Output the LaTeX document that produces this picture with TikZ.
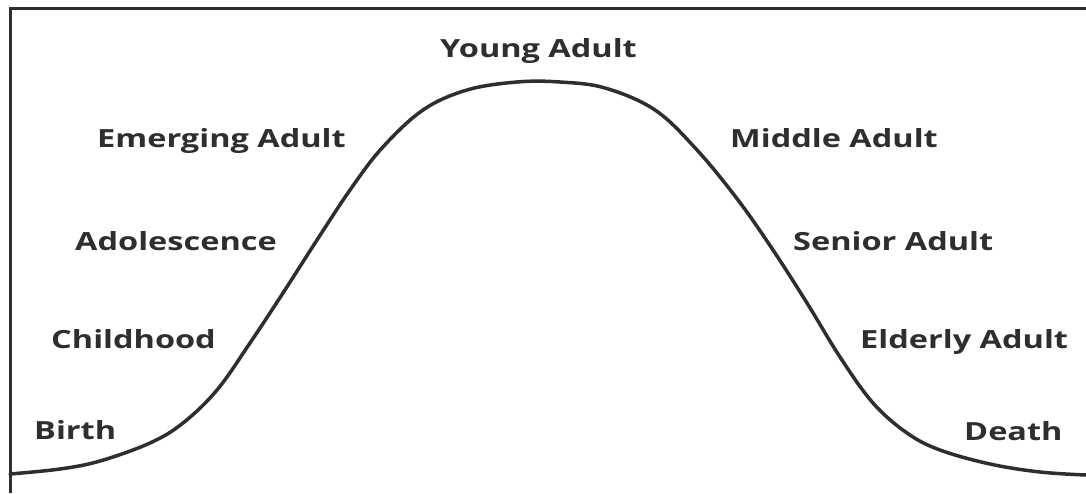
\documentclass[tikz,border=0pt]{standalone}
\usepackage{fontspec}
\newfontfamily\lblfont{Open Sans}[FakeStretch=1.3]
\definecolor{ink}{HTML}{2E2E2E}
\begin{document}
\begin{tikzpicture}[x=1pt,y=-1pt,
  lbl/.style={anchor=base west, inner sep=0pt, text=ink, font=\lblfont\bfseries\fontsize{25}{30}\selectfont},
  frame/.style={draw=ink, line width=3pt},
  curve/.style={draw=ink, line width=3.5pt, line cap=round}]
\useasboundingbox (0,0) rectangle (1086,493);
\fill[white] (0,0) rectangle (1086,493);
\coordinate (fb) at (10,493);
\coordinate (fc) at (10,8);
\coordinate (fr) at (1086,8);
\draw[frame] (fb) -- (fc) -- (fr);
\draw[curve] plot[smooth, tension=0.6] coordinates {
 (10,474) (60,469) (100,461) (150,443) (183,423) (217,390) (250,343) (283,293)
 (317,240) (350,190) (382,148) (423,110) (467,90) (517,82) (560,82) (605,88)
 (655,110) (697,150) (738,200) (773,250) (807,303) (840,357) (873,403)
 (907,433) (940,450) (990,464) (1040,472) (1086,475)};
\node[lbl] (young) at (440,57) {Young Adult};
\node[lbl] (emerging) at (97,147) {Emerging Adult};
\node[lbl] (middle) at (730,147) {Middle Adult};
\node[lbl] (adol) at (75,250) {Adolescence};
\node[lbl] (senior) at (793,250) {Senior Adult};
\node[lbl] (child) at (51,348) {Childhood};
\node[lbl] (elderly) at (860,348) {Elderly Adult};
\node[lbl] (birth) at (34,439) {Birth};
\node[lbl] (death) at (964,440) {Death};
\end{tikzpicture}
\end{document}
